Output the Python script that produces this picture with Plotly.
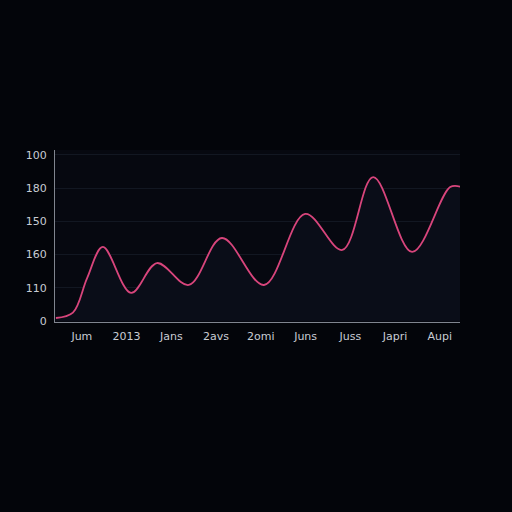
import plotly.graph_objects as go

# --- DATA ---
x_labels = ['Jum', '2013', 'Jans', '2avs', '2omi', 'Juns', 'Juss', 'Japri', 'Aupi']
x_ticks = [0, 1, 2, 3, 4, 5, 6, 7, 8]
y_ticks = [0, 20, 40, 60, 80, 100]
y_labels = ['0', '110', '160', '150', '180', '100']

# curve points (position along x in label units, value)
x_pts = [-0.58, -0.2, 0.12, 0.47, 1.10, 1.68, 2.39, 3.13, 4.07, 4.99, 5.82, 6.51, 7.38, 8.23, 8.46]
y_pts = [1.8, 5.0, 26.0, 44.6, 16.9, 34.9, 21.7, 50.0, 21.7, 64.5, 42.8, 86.7, 41.6, 80.7, 80.9]

fig = go.Figure()

fig.add_trace(go.Scatter(
    x=x_pts, y=y_pts,
    mode='lines',
    line=dict(color='#d8457c', width=1.8, shape='spline', smoothing=1.0),
    fill='tozeroy',
    fillcolor='#0a0d18',
    hoverinfo='skip',
    showlegend=False
))

fig.update_layout(
    width=512, height=512,
    margin=dict(l=55, r=52, t=150, b=190),
    paper_bgcolor='#03050a',
    plot_bgcolor='#060810',
    font=dict(family='DejaVu Sans', size=11, color='#c8ccd4'),
    xaxis=dict(
        range=[-0.6, 8.45],
        tickvals=x_ticks, ticktext=x_labels,
        showgrid=False, zeroline=False,
        showline=True, linecolor='#80858f', linewidth=1,
        ticks='outside', ticklen=4, tickcolor='rgba(0,0,0,0)',
        fixedrange=True
    ),
    yaxis=dict(
        range=[-0.6, 103],
        tickvals=y_ticks, ticktext=y_labels,
        showgrid=True, gridcolor='#121722', gridwidth=1,
        zeroline=False,
        showline=True, linecolor='#80858f', linewidth=1,
        ticks='outside', ticklen=5, tickcolor='rgba(0,0,0,0)',
        fixedrange=True
    )
)

# drop the page margin so the figure fills the window
fig.write_html("out.html", config={'displayModeBar': False},
               post_script="document.body.style.margin='0';document.body.style.background='#03050a';")
